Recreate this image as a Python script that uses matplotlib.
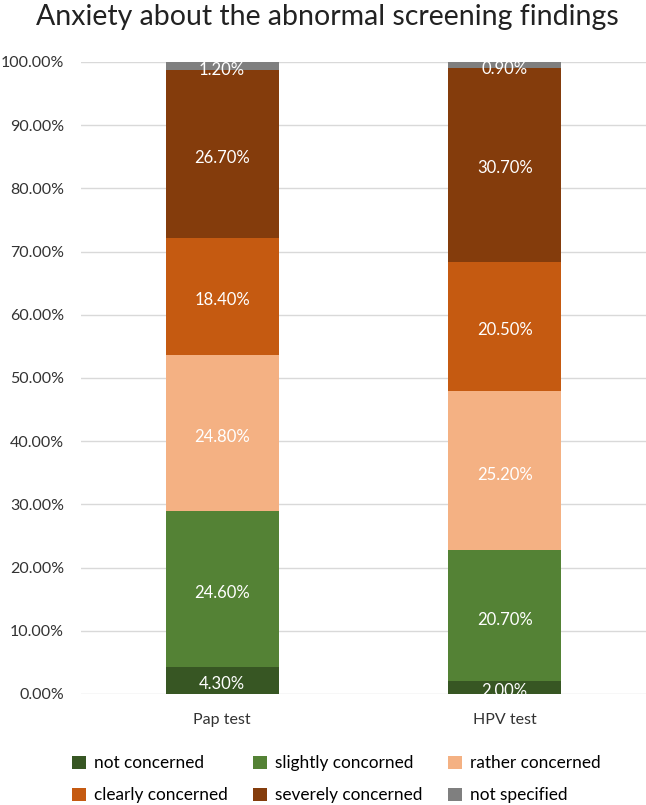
import numpy as np
import matplotlib.pyplot as plt
from matplotlib.ticker import FuncFormatter

plt.rcParams['font.family'] = ['Lato', 'DejaVu Sans']

# data
tests = ['Pap test', 'HPV test']
levels = ['not concerned', 'slightly concorned', 'rather concerned',
          'clearly concerned', 'severely concerned', 'not specified']
pap = [4.3, 24.6, 24.8, 18.4, 26.7, 1.2]
hpv = [2.0, 20.7, 25.2, 20.5, 30.7, 0.9]
colors = ['#375623', '#548235', '#F4B183', '#C55A11', '#843C0C', '#7F7F7F']

vals = np.array([pap, hpv]) / 100.0

fig = plt.figure(figsize=(6.46, 8.05), dpi=100)
ax = fig.add_axes([0.125, 0.138, 0.875, 0.785])

x = np.arange(len(tests))
bottom = np.zeros(len(tests))
handles = []
for i, lev in enumerate(levels):
    bars = ax.bar(x, vals[:, i], 0.4, bottom=bottom, color=colors[i], label=lev, zorder=3)
    handles.append(bars)
    for j, b in enumerate(bars):
        ax.text(b.get_x() + b.get_width() / 2, bottom[j] + vals[j, i] / 2 - 0.006,
                '%.2f%%' % (vals[j, i] * 100), ha='center', va='center',
                color='white', fontsize=12, zorder=4, clip_on=True)
    bottom += vals[:, i]

ax.set_xlim(-0.5, 1.5)
ax.set_ylim(0, 1.0)
ax.set_yticks(np.arange(0, 1.01, 0.1))
ax.yaxis.set_major_formatter(FuncFormatter(lambda v, p: '%.2f%%' % (v * 100)))
ax.set_xticks(x)
ax.set_xticklabels(tests)
ax.tick_params(length=0, labelsize=11.5, colors='#333333')
ax.tick_params(axis='x', pad=14)
ax.tick_params(axis='y', pad=12)
ax.grid(axis='y', color='#D9D9D9', linewidth=1, zorder=0)
for s in ax.spines.values():
    s.set_visible(False)

fig.text(0.507, 0.979, 'Anxiety about the abnormal screening findings', fontsize=20.5,
         color='#222222', ha='center', va='center')

# legend filled row by row
order = [0, 3, 1, 4, 2, 5]
ax.legend([handles[k] for k in order], [levels[k] for k in order],
          loc='upper left', bbox_to_anchor=(0.112, 0.062), bbox_transform=fig.transFigure,
          ncol=3, frameon=False, borderpad=0, borderaxespad=0,
          fontsize=12.4, handlelength=0.8, handleheight=0.8, columnspacing=1.5,
          labelspacing=0.95, handletextpad=0.45)

fig.savefig('out.png', dpi=100)
